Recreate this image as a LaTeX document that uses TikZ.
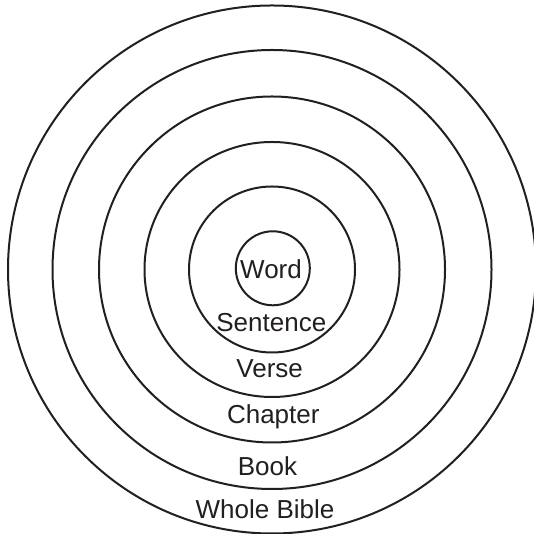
\documentclass[tikz,border=0pt]{standalone}
\usepackage{fontspec}
\setmainfont{Liberation Sans}
\definecolor{ink}{HTML}{231F20}
\begin{document}
\begin{tikzpicture}[x=1pt,y=1pt,
  ring/.style={draw=ink,line width=2pt},
  lbl/.style={anchor=base,inner sep=0pt,text=ink,font=\fontsize{26}{31}\selectfont}]
\useasboundingbox (0,0) rectangle (534,534);
\fill[white] (0,0) rectangle (534,534);
\coordinate (c) at (272,264.5);
\coordinate (cw) at (272.8,265.7);
\draw[ring] (c) circle (264);
\draw[ring] (c) circle (219.5);
\draw[ring] (c) circle (173);
\draw[ring] (c) circle (127.5);
\draw[ring] (c) circle (83);
\draw[ring] (cw) circle (37);
\node[lbl] (word) at (271,255) {Word};
\node[lbl] (sentence) at (271.3,202) {Sentence};
\node[lbl] (verse) at (269.7,156) {Verse};
\node[lbl] (chapter) at (273.3,110) {Chapter};
\node[lbl] (book) at (267.5,58.5) {Book};
\node[lbl] (bible) at (265,15) {Whole Bible};
\end{tikzpicture}
\end{document}
